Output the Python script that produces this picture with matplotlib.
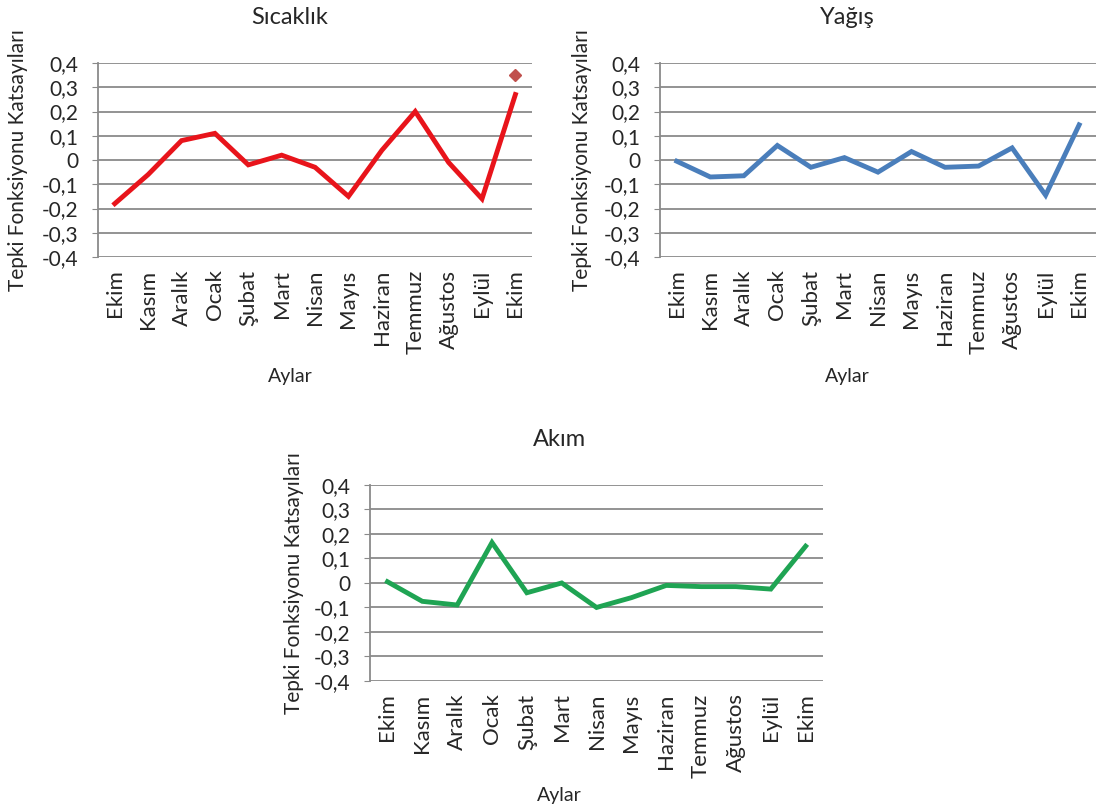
import matplotlib.pyplot as plt

plt.rcParams['font.family'] = ['Lato', 'DejaVu Sans']

months = ['Ekim', 'Kasım', 'Aralık', 'Ocak', 'Şubat', 'Mart', 'Nisan',
          'Mayıs', 'Haziran', 'Temmuz', 'Ağustos', 'Eylül', 'Ekim']

sicaklik = [-0.18, -0.06, 0.08, 0.11, -0.02, 0.02, -0.03, -0.15,
            0.04, 0.20, -0.01, -0.16, 0.27]
sicaklik_last = 0.35   # single marker above the last month

yagis = [-0.005, -0.07, -0.065, 0.06, -0.03, 0.01, -0.05, 0.035,
         -0.03, -0.025, 0.05, -0.145, 0.145]

akim = [0.005, -0.075, -0.09, 0.165, -0.04, 0.0, -0.10, -0.06,
        -0.01, -0.015, -0.015, -0.025, 0.15]

yticks = [-0.4, -0.3, -0.2, -0.1, 0, 0.1, 0.2, 0.3, 0.4]
ytick_labels = ['-0,4', '-0,3', '-0,2', '-0,1', '0', '0,1', '0,2', '0,3', '0,4']

text_col = '#262626'
grid_col = '#8a8a8a'


def draw(ax, values, color, title, mid_x, ylab_x, xlab_y):
    x = range(len(values))
    ax.plot(x, values, color=color, lw=3.5, solid_joinstyle='miter', zorder=3)
    ax.set_xlim(-0.5, len(values) - 0.5)
    ax.set_ylim(-0.4, 0.4)
    ax.set_yticks(yticks)
    ax.set_yticklabels(ytick_labels)
    ax.set_xticks(list(x))
    ax.set_xticklabels(months, rotation=90, va='top', ha='center')
    ax.grid(axis='y', color=grid_col, lw=1.3)
    ax.set_axisbelow(True)
    for s in ['top', 'right', 'bottom']:
        ax.spines[s].set_visible(False)
    ax.spines['left'].set_color(grid_col)
    ax.spines['left'].set_linewidth(1.3)
    ax.tick_params(axis='y', length=4, color=grid_col, labelsize=15,
                   labelcolor=text_col, pad=10)
    ax.tick_params(axis='x', length=0, labelsize=16, labelcolor=text_col, pad=9)
    ax.set_ylabel('Tepki Fonksiyonu Katsayıları', fontsize=15, color=text_col)
    ax.yaxis.set_label_coords(ylab_x, 0.5)
    ax.set_xlabel('Aylar', fontsize=14, color=text_col)
    ax.xaxis.set_label_coords(mid_x, xlab_y)
    ax.set_title(title, fontsize=17, color=text_col, x=mid_x, pad=28)


fig = plt.figure(figsize=(10.98, 8.10), dpi=100)

ax1 = fig.add_axes([0.0893, 0.6827, 0.3953, 0.2395])
draw(ax1, sicaklik, '#e8141b', 'Sıcaklık', 0.442, -0.162, -0.57)
ax1.plot([len(sicaklik) - 1], [sicaklik_last], marker='D', ms=6,
         color='#c0504d', ls='none', zorder=4)

ax2 = fig.add_axes([0.6011, 0.6827, 0.397, 0.2395])
draw(ax2, yagis, '#4a7ebb', 'Yağış', 0.43, -0.156, -0.57)

ax3 = fig.add_axes([0.337, 0.1593, 0.4126, 0.2420])
draw(ax3, akim, '#1fa453', 'Akım', 0.418, -0.145, -0.54)

fig.savefig('out.png', dpi=100, facecolor='white')
